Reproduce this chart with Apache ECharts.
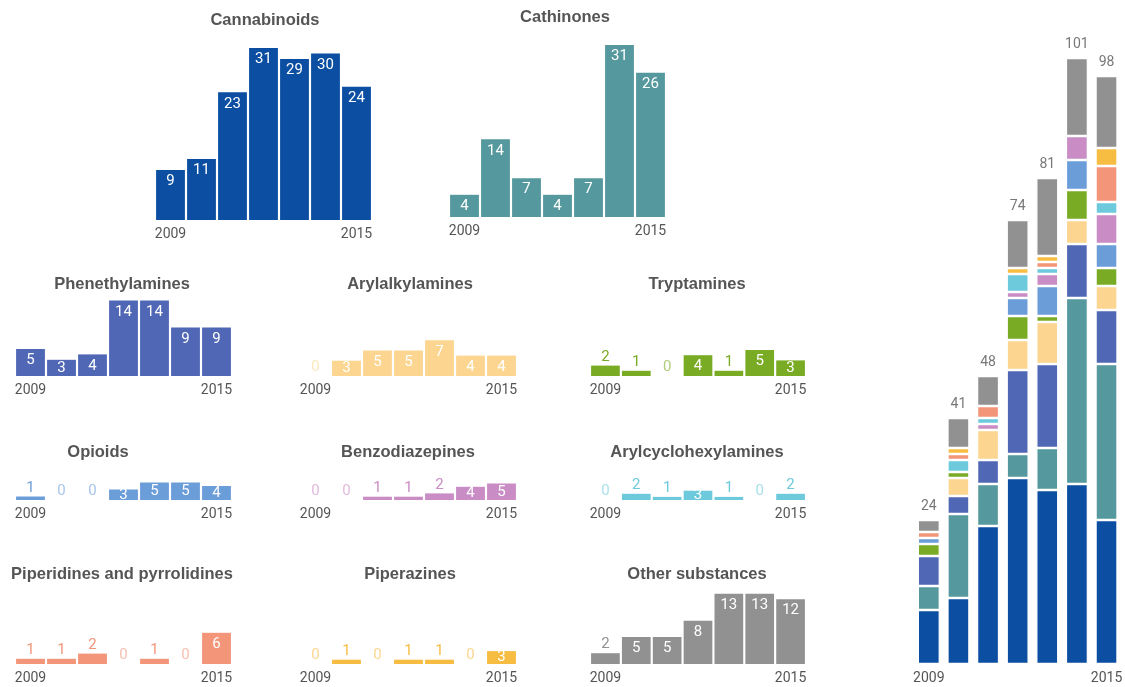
<!DOCTYPE html>
<html>
<head>
<meta charset="utf-8">
<script src="https://cdn.jsdelivr.net/npm/echarts@6/dist/echarts.min.js"></script>
<style>
html,body{margin:0;padding:0;background:#fff;}
#chart{width:1125px;height:687px;}
</style>
</head>
<body>
<div id="chart"></div>
<script>
const years = ['2009','2010','2011','2012','2013','2014','2015'];
const cannabinoids = [9, 11, 23, 31, 29, 30, 24];
const cathinones = [4, 14, 7, 4, 7, 31, 26];
const phenethylamines = [5, 3, 4, 14, 14, 9, 9];
const arylalkylamines = [0, 3, 5, 5, 7, 4, 4];
const tryptamines = [2, 1, 0, 4, 1, 5, 3];
const opioids = [1, 0, 0, 3, 5, 5, 4];
const benzodiazepines = [0, 0, 1, 1, 2, 4, 5];
const arylcyclohexylamines = [0, 2, 1, 3, 1, 0, 2];
const piperidines = [1, 1, 2, 0, 1, 0, 6];
const piperazines = [0, 1, 0, 1, 1, 0, 3];
const otherSubstances = [2, 5, 5, 8, 13, 13, 12];

const groups = [
  {name:'Cannabinoids', values:cannabinoids, color:'#0b4ea2'},
  {name:'Cathinones', values:cathinones, color:'#55989d'},
  {name:'Phenethylamines', values:phenethylamines, color:'#5067b6'},
  {name:'Arylalkylamines', values:arylalkylamines, color:'#fcd590'},
  {name:'Tryptamines', values:tryptamines, color:'#7aab24'},
  {name:'Opioids', values:opioids, color:'#6b9dd9'},
  {name:'Benzodiazepines', values:benzodiazepines, color:'#c98cc5'},
  {name:'Arylcyclohexylamines', values:arylcyclohexylamines, color:'#6ccadc'},
  {name:'Piperidines and pyrrolidines', values:piperidines, color:'#f29579'},
  {name:'Piperazines', values:piperazines, color:'#f7bd42'},
  {name:'Other substances', values:otherSubstances, color:'#919191'}
];

// layout (positions only)
const layout = [
  {left:155, width:217, base:220, ppu:5.55, tx:265, ty:20},
  {left:449, width:217, base:217, ppu:5.55, tx:565, ty:17},
  {left:15,  width:217, base:376, ppu:5.4,  tx:122, ty:284},
  {left:300, width:217, base:376, ppu:5.1,  tx:410, ty:284},
  {left:590, width:216, base:376, ppu:5.2,  tx:697, ty:284},
  {left:15,  width:217, base:500, ppu:3.5,  tx:98,  ty:452},
  {left:300, width:217, base:500, ppu:3.3,  tx:408, ty:452},
  {left:590, width:216, base:500, ppu:3.1,  tx:697, ty:452},
  {left:15,  width:217, base:664, ppu:5.2,  tx:122, ty:574},
  {left:300, width:217, base:664, ppu:4.3,  tx:410, ty:574},
  {left:590, width:216, base:664, ppu:5.4,  tx:697, ty:574}
];

const grids = [], xAxes = [], yAxes = [], series = [], graphics = [];
const labelFont = 'Roboto';

function axisPair(i, gridOpt, yMax) {
  grids.push(gridOpt);
  xAxes.push({
    type:'category', data:years, gridIndex:i,
    axisLine:{show:false}, axisTick:{show:false},
    axisLabel:{
      interval:0,
      formatter:function(v, idx){ return (idx===0 || idx===years.length-1) ? v : ''; },
      color:'#555', fontSize:14, fontFamily:labelFont, margin:7
    }
  });
  yAxes.push({type:'value', gridIndex:i, min:0, max:yMax, show:false, splitLine:{show:false}});
}

groups.forEach(function(g, i){
  const L = layout[i];
  const maxV = Math.max.apply(null, g.values);
  const h = maxV * L.ppu;
  axisPair(i, {left:L.left, width:L.width, top:L.base - h, height:h}, maxV);
  graphics.push({
    type:'text', x:L.tx, y:L.ty,
    style:{text:g.name, fill:'#555', font:'bold 16.5px "Liberation Sans", Arial, sans-serif',
           textAlign:'center', textVerticalAlign:'middle'}
  });
  series.push({
    type:'bar', xAxisIndex:i, yAxisIndex:i, name:g.name,
    barCategoryGap:'7%',
    itemStyle:{color:g.color},
    data:g.values.map(function(v){
      const px = v * L.ppu;
      let label;
      if (v >= 3) {
        label = {show:true, position: px < 20 ? 'inside' : 'insideTop', distance:4,
                 color:'#fff', fontSize:15, fontFamily:labelFont};
      } else {
        label = {show:true, position:'top', distance:1, color:g.color,
                 opacity: v === 0 ? 0.6 : 1, fontSize:15, fontFamily:labelFont};
      }
      return {value:v, label:label};
    }),
    emphasis:{disabled:true}
  });
});

// stacked totals chart
const si = groups.length;
const totals = years.map(function(_, k){
  return groups.reduce(function(s, g){ return s + g.values[k]; }, 0);
});
const stackMax = Math.max.apply(null, totals);
const stackPpu = 6.0;
axisPair(si, {left:914, width:211, top:664 - stackMax*stackPpu, height:stackMax*stackPpu}, stackMax);
groups.forEach(function(g){
  series.push({
    type:'bar', xAxisIndex:si, yAxisIndex:si, stack:'total', name:g.name + ' total',
    barWidth:22,
    itemStyle:{color:g.color, borderColor:'#fff', borderWidth:1.2},
    data:g.values.slice(),
    emphasis:{disabled:true}
  });
});
series.push({
  type:'scatter', xAxisIndex:si, yAxisIndex:si, symbolSize:0.1,
  data:totals,
  label:{show:true, position:'top', distance:6, color:'#555', fontSize:14, fontFamily:labelFont,
         formatter:function(p){ return p.value; }},
  itemStyle:{color:'rgba(0,0,0,0)'},
  emphasis:{disabled:true}, z:5
});

const chart = echarts.init(document.getElementById('chart'), null, {renderer:'canvas'});
chart.setOption({
  animation:false,
  backgroundColor:'#fff',
  grid:grids, xAxis:xAxes, yAxis:yAxes, series:series,
  graphic:graphics,
  tooltip:{show:false}
});
</script>
</body>
</html>
